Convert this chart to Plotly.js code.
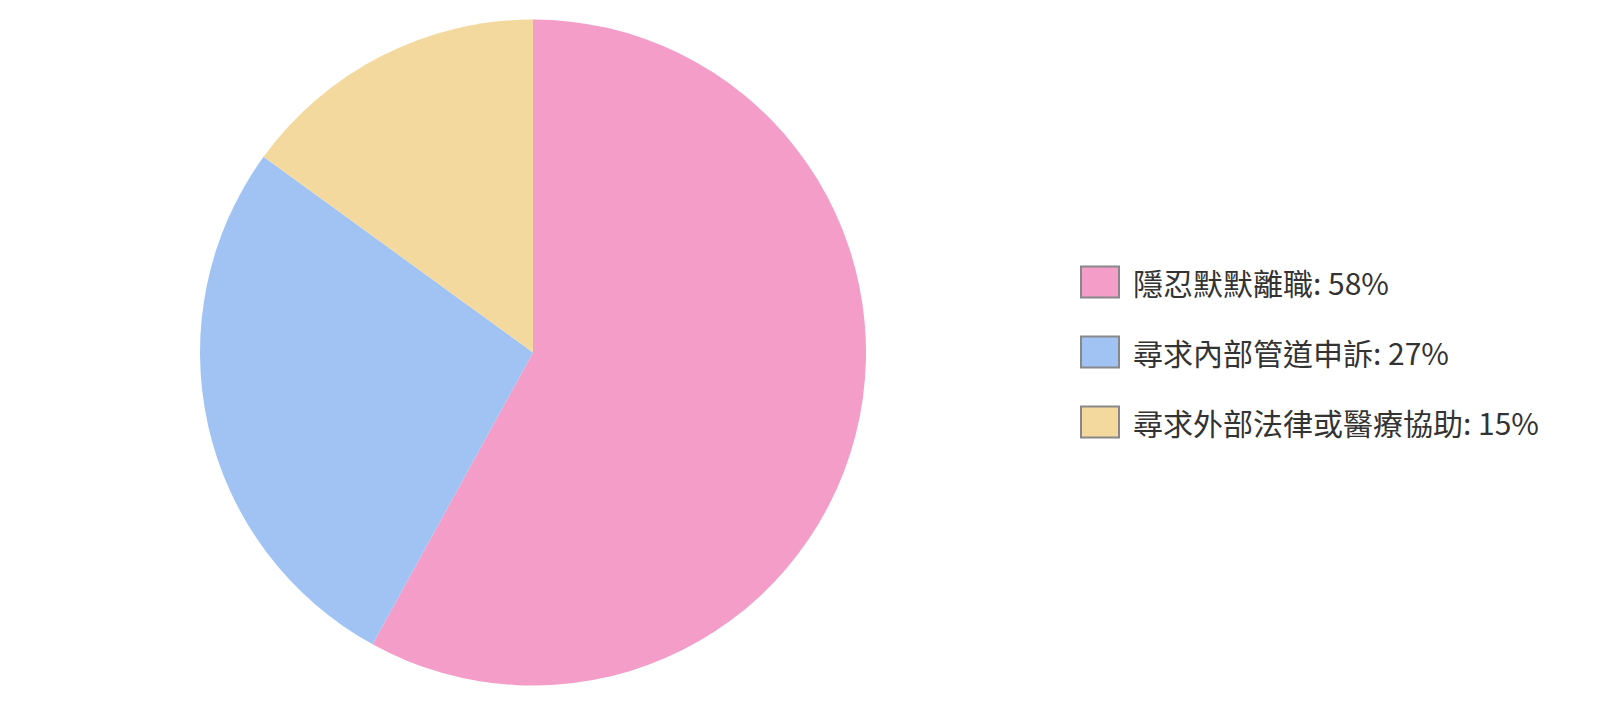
<!DOCTYPE html>
<html>
<head>
<meta charset="utf-8">
<script src="https://cdn.plot.ly/plotly-3.0.1.min.js"></script>
<style>html,body{margin:0;padding:0;background:#fff;}#chart{width:1600px;height:705px;}</style>
</head>
<body>
<div id="chart"></div>
<script>
const categories = ["隱忍默默離職", "尋求內部管道申訴", "尋求外部法律或醫療協助"];
const values = [58, 27, 15];
const colors = ["#F39DC8", "#A0C3F4", "#F3D99E"];

const W = 1600, H = 705;
const cx = 533, cyFromBottom = 352.5, R = 333;
const pie = {
  type: "pie",
  labels: categories,
  values: values,
  sort: false,
  direction: "clockwise",
  rotation: 0,
  textinfo: "none",
  hoverinfo: "label+percent",
  marker: {colors: colors, line: {width: 0}},
  domain: {x: [(cx - R) / W, (cx + R) / W], y: [(cyFromBottom - R) / H, (cyFromBottom + R) / H]},
  showlegend: false
};

const shapes = [];
const annotations = [];
const rowY = [282, 352, 422];
categories.forEach((c, i) => {
  const yc = rowY[i];
  shapes.push({
    type: "rect", xref: "paper", yref: "paper",
    x0: 1081 / W, x1: 1119 / W,
    y0: 1 - (yc - 15.5) / H, y1: 1 - (yc + 15.5) / H,
    fillcolor: colors[i], line: {color: "#888888", width: 2}
  });
  annotations.push({
    xref: "paper", yref: "paper", x: 1131 / W, y: 1 - yc / H,
    xanchor: "left", yanchor: "middle", showarrow: false,
    text: c + ": " + values[i] + "%",
    font: {family: "Noto Sans CJK TC", size: 30, color: "#333333"}
  });
});

Plotly.newPlot("chart", [pie], {
  width: W, height: H,
  margin: {l: 0, r: 0, t: 0, b: 0},
  paper_bgcolor: "#ffffff",
  showlegend: false,
  shapes: shapes,
  annotations: annotations,
  font: {family: "Noto Sans CJK TC"}
}, {displayModeBar: false, staticPlot: false});
</script>
</body>
</html>
